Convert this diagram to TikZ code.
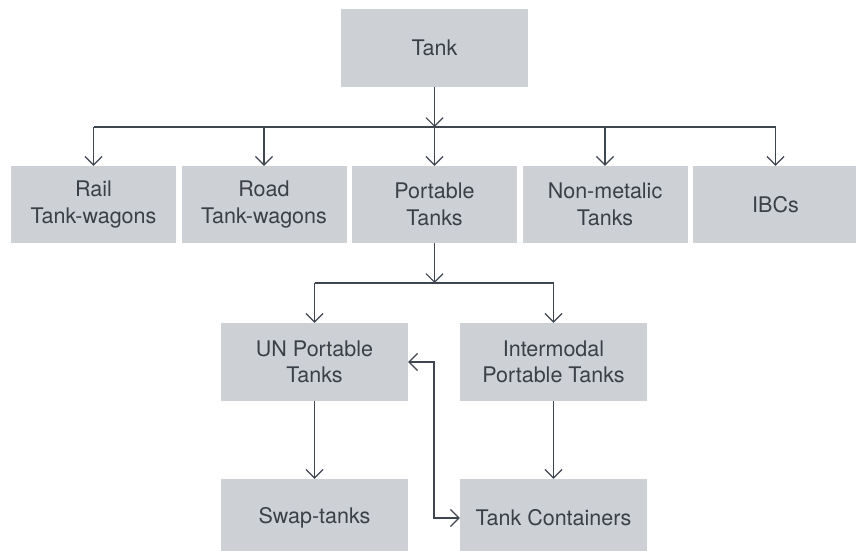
\documentclass[tikz,border=0pt]{standalone}
\usepackage{fontspec}
\setmainfont{TeX Gyre Heros}
\usetikzlibrary{arrows.meta}
\definecolor{boxfill}{RGB}{205,208,212}
\definecolor{linecol}{RGB}{62,70,80}
\definecolor{txtcol}{RGB}{58,64,72}
\begin{document}
\begin{tikzpicture}[x=1pt,y=-1pt,
  box/.style={rectangle, fill=boxfill, draw=none, inner sep=0pt, align=center,
    text=txtcol, font=\fontsize{21.5}{26.5}\selectfont},
  wbox/.style={box, minimum width=187pt, minimum height=78pt},
  nbox/.style={box, minimum width=165pt, minimum height=77pt},
  conn/.style={draw=linecol, line width=1.2pt},
  arr/.style={conn, -{Straight Barb[length=8.5pt,width=17pt,line width=1.2pt]}},
  arrboth/.style={conn, {Straight Barb[length=8.5pt,width=17pt,line width=1.2pt]}-{Straight Barb[length=8.5pt,width=17pt,line width=1.2pt]}}]
\path[use as bounding box, clip] (0,0) rectangle (856,551);
\fill[white] (0,0) rectangle (856,551);

\node[wbox] (tank) at (434.5,48) {Tank};

\node[nbox] (rail) at (93.5,204.5) {Rail\\Tank-wagons};
\node[nbox] (road) at (264,204.5) {Road\\Tank-wagons};
\node[nbox] (port) at (434.5,204.5) {Portable\\Tanks};
\node[nbox] (nonm) at (605,204.5) {Non-metalic\\Tanks};
\node[nbox] (ibc) at (775.5,204.5) {IBCs};

\node[wbox] (un) at (314.5,362) {UN Portable\\Tanks};
\node[wbox] (inter) at (553.5,362) {Intermodal\\Portable Tanks};
\node[wbox] (swap) at (314.5,518) {Swap-tanks};
\node[wbox] (cont) at (553.5,518) {Tank Containers};

\coordinate (j1) at (434.5,127);
\coordinate (j2) at (434.5,283);
\coordinate (bx) at (434,440);

\draw[arr] (tank.south) -- (j1);
\draw[conn] (rail.north |- j1) -- (ibc.north |- j1);
\draw[arr] (rail.north |- j1) -- (rail.north);
\draw[arr] (road.north |- j1) -- (road.north);
\draw[arr] (j1) -- (port.north);
\draw[arr] (nonm.north |- j1) -- (nonm.north);
\draw[arr] (ibc.north |- j1) -- (ibc.north);

\draw[arr] (port.south) -- (j2);
\draw[conn] (un.north |- j2) -- (inter.north |- j2);
\draw[arr] (un.north |- j2) -- (un.north);
\draw[arr] (inter.north |- j2) -- (inter.north);

\draw[arr] (un.south) -- (swap.north);
\draw[arr] (inter.south) -- (cont.north);

\draw[arrboth] (un.east) -| (bx) |- (cont.west);
\end{tikzpicture}
\end{document}
